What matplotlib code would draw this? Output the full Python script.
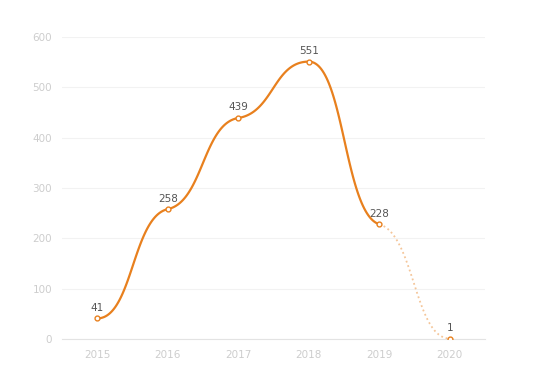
import numpy as np
import matplotlib
matplotlib.use("Agg")
from matplotlib import pyplot as plt

years = ["2015", "2016", "2017", "2018", "2019", "2020"]
values = [41, 258, 439, 551, 228, 1]
y_ticks = [0, 100, 200, 300, 400, 500, 600]

LINE = "#e8801e"


def tangents(y, c=0.15):
    # small slopes at interior points, flat at ends and extrema
    m = np.zeros(len(y))
    for i in range(1, len(y) - 1):
        d0 = y[i] - y[i - 1]
        d1 = y[i + 1] - y[i]
        if d0 * d1 > 0:
            m[i] = c * (y[i + 1] - y[i - 1]) / 2
    return m


def bezier(x0, y0, m0, x1, y1, m1, k=0.5, n=60):
    t = np.linspace(0, 1, n)
    h = (x1 - x0) * k
    px = [x0, x0 + h, x1 - h, x1]
    py = [y0, y0 + h * m0, y1 - h * m1, y1]
    b = [(1 - t) ** 3, 3 * (1 - t) ** 2 * t, 3 * (1 - t) * t ** 2, t ** 3]
    bx = sum(bi * p for bi, p in zip(b, px))
    by = sum(bi * p for bi, p in zip(b, py))
    return bx, by


fig = plt.figure(figsize=(5.39, 3.73), dpi=100)
ax = fig.add_axes([0.115, 0.091, 0.785, 0.81])

xs = np.arange(len(years))
m = tangents(values)
for i in range(len(years) - 1):
    bx, by = bezier(xs[i], values[i], m[i], xs[i + 1], values[i + 1], m[i + 1])
    if i < len(years) - 2:
        ax.plot(bx, by, color=LINE, lw=1.6, solid_capstyle="round", zorder=3)
    else:
        ax.plot(bx, by, color=LINE, lw=1.3, ls=(0, (1, 1.6)), alpha=0.45, zorder=3)

ax.plot(xs, values, "o", ms=3.5, mfc="white", mec=LINE, mew=1.0, ls="none", zorder=4)

for x, v in zip(xs, values):
    ax.annotate(str(v), (x, v), xytext=(0, 4), textcoords="offset points",
                ha="center", va="bottom", fontsize=7.5, color="#555555")

ax.set_xlim(-0.5, len(years) - 0.5)
ax.set_ylim(0, 600)
ax.set_xticks(xs)
ax.set_xticklabels(years)
ax.set_yticks(y_ticks)
ax.tick_params(length=0, labelsize=7.5, labelcolor="#cdcdcd", pad=8)
ax.tick_params(axis="y", pad=7)

ax.grid(axis="y", color="#f2f2f2", lw=0.8)
ax.set_axisbelow(True)
for s in ["top", "right", "left"]:
    ax.spines[s].set_visible(False)
ax.spines["bottom"].set_color("#e3e3e3")
ax.spines["bottom"].set_linewidth(0.8)

fig.savefig("out.png", dpi=100)
